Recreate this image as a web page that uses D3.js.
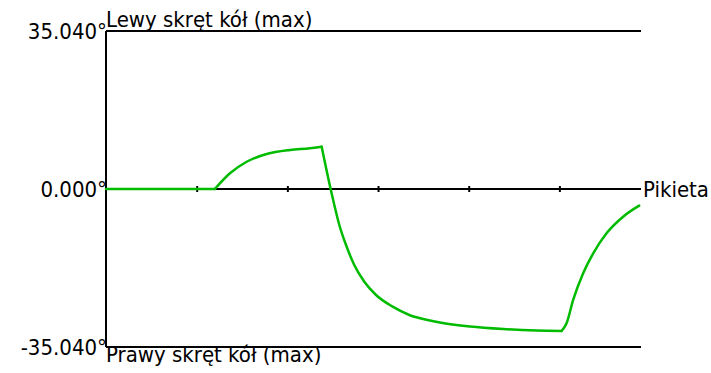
<!DOCTYPE html>
<html>
<head>
<meta charset="utf-8">
<script src="https://cdn.jsdelivr.net/npm/d3@7"></script>
<style>
  body { margin: 0; background: #fff; }
  svg { display: block; }
  text { font-family: "DejaVu Sans Condensed", "DejaVu Sans", Verdana, sans-serif; font-stretch: condensed; font-size: 22px; fill: #000; }
</style>
</head>
<body>
<div id="chart"></div>
<script>
// dane
const pikieta = [0, 12.0, 13.67, 15.51, 17.72, 20.29, 22.49, 23.78,
  24.77, 25.18, 25.73, 26.47, 27.38, 28.49, 29.78, 31.62, 33.45, 35.72, 36.82, 40.13, 43.8, 47.49, 50.24,
  50.79, 51.52, 52.62, 53.73, 55.2, 57.03, 58.8];
const skret = [0, 0, 3.48, 6.05, 7.76, 8.65, 9.03, 9.38,
  0, -3.55, -7.98, -12.42, -16.85, -20.56, -23.51, -26.1, -27.94, -29.16, -29.61, -30.49, -31.05, -31.38, -31.49,
  -29.79, -24.6, -18.7, -14.26, -9.82, -6.14, -3.7];
// punkty załamania przebiegu (indeksy w tablicach)
const breaks = [0, 1, 7, 22, 29];
const xTicks = [10, 20, 30, 40, 50];
const yTicks = [35.04, 0, -35.04];
const yLabels = ["35.040°", "0.000°", "-35.040°"];
const topLabel = "Lewy skręt kół (max)";
const bottomLabel = "Prawy skręt kół (max)";
const xLabel = "Pikieta";

const width = 711, height = 373;
const svg = d3.select("#chart").append("svg")
    .attr("width", width)
    .attr("height", height);

const x = d3.scaleLinear().domain([0, 59]).range([106, 641]);
const y = d3.scaleLinear().domain([-35.04, 35.04]).range([347, 31]);

// linie poziome (max / 0 / min)
svg.selectAll(".hline")
    .data(yTicks)
    .enter()
    .append("line")
    .attr("class", "hline")
    .attr("x1", x(0))
    .attr("x2", x(59))
    .attr("y1", d => y(d))
    .attr("y2", d => y(d))
    .attr("stroke", "#000")
    .attr("stroke-width", 2);

// oś pionowa
svg.append("line")
    .attr("x1", x(0))
    .attr("x2", x(0))
    .attr("y1", y(35.04))
    .attr("y2", y(-35.04))
    .attr("stroke", "#000")
    .attr("stroke-width", 2);

// znaczniki na osi pikiety
const xAxis = svg.append("g")
    .attr("transform", `translate(0, ${y(0) - 3})`)
    .call(d3.axisBottom(x).tickValues(xTicks).tickSize(6).tickFormat(""));
xAxis.select(".domain").remove();
xAxis.selectAll(".tick line").attr("stroke", "#000").attr("stroke-width", 2);

// etykiety osi Y
svg.selectAll(".ylab")
    .data(yTicks)
    .enter()
    .append("text")
    .attr("class", "ylab")
    .attr("x", x(0) + 1)
    .attr("y", d => y(d))
    .attr("dy", "0.36em")
    .attr("text-anchor", "end")
    .text((d, i) => yLabels[i]);

svg.append("text")
    .attr("x", x(0))
    .attr("y", y(35.04) - 4)
    .text(topLabel);

svg.append("text")
    .attr("x", x(0))
    .attr("y", y(-35.04) + 15)
    .text(bottomLabel);

svg.append("text")
    .attr("x", x(59) + 2)
    .attr("y", y(0))
    .attr("dy", "0.36em")
    .text(xLabel);

// przebieg skrętu kół, gładko między punktami załamania
const line = d3.line()
    .x(i => x(pikieta[i]))
    .y(i => y(skret[i]))
    .curve(d3.curveMonotoneX);

const segments = d3.pairs(breaks).map(([a, b]) => d3.range(a, b + 1));

svg.selectAll(".seg")
    .data(segments)
    .enter()
    .append("path")
    .attr("class", "seg")
    .attr("fill", "none")
    .attr("stroke", "#00bb00")
    .attr("stroke-width", 2.5)
    .attr("stroke-linejoin", "round")
    .attr("stroke-linecap", "round")
    .attr("d", line);
</script>
</body>
</html>
